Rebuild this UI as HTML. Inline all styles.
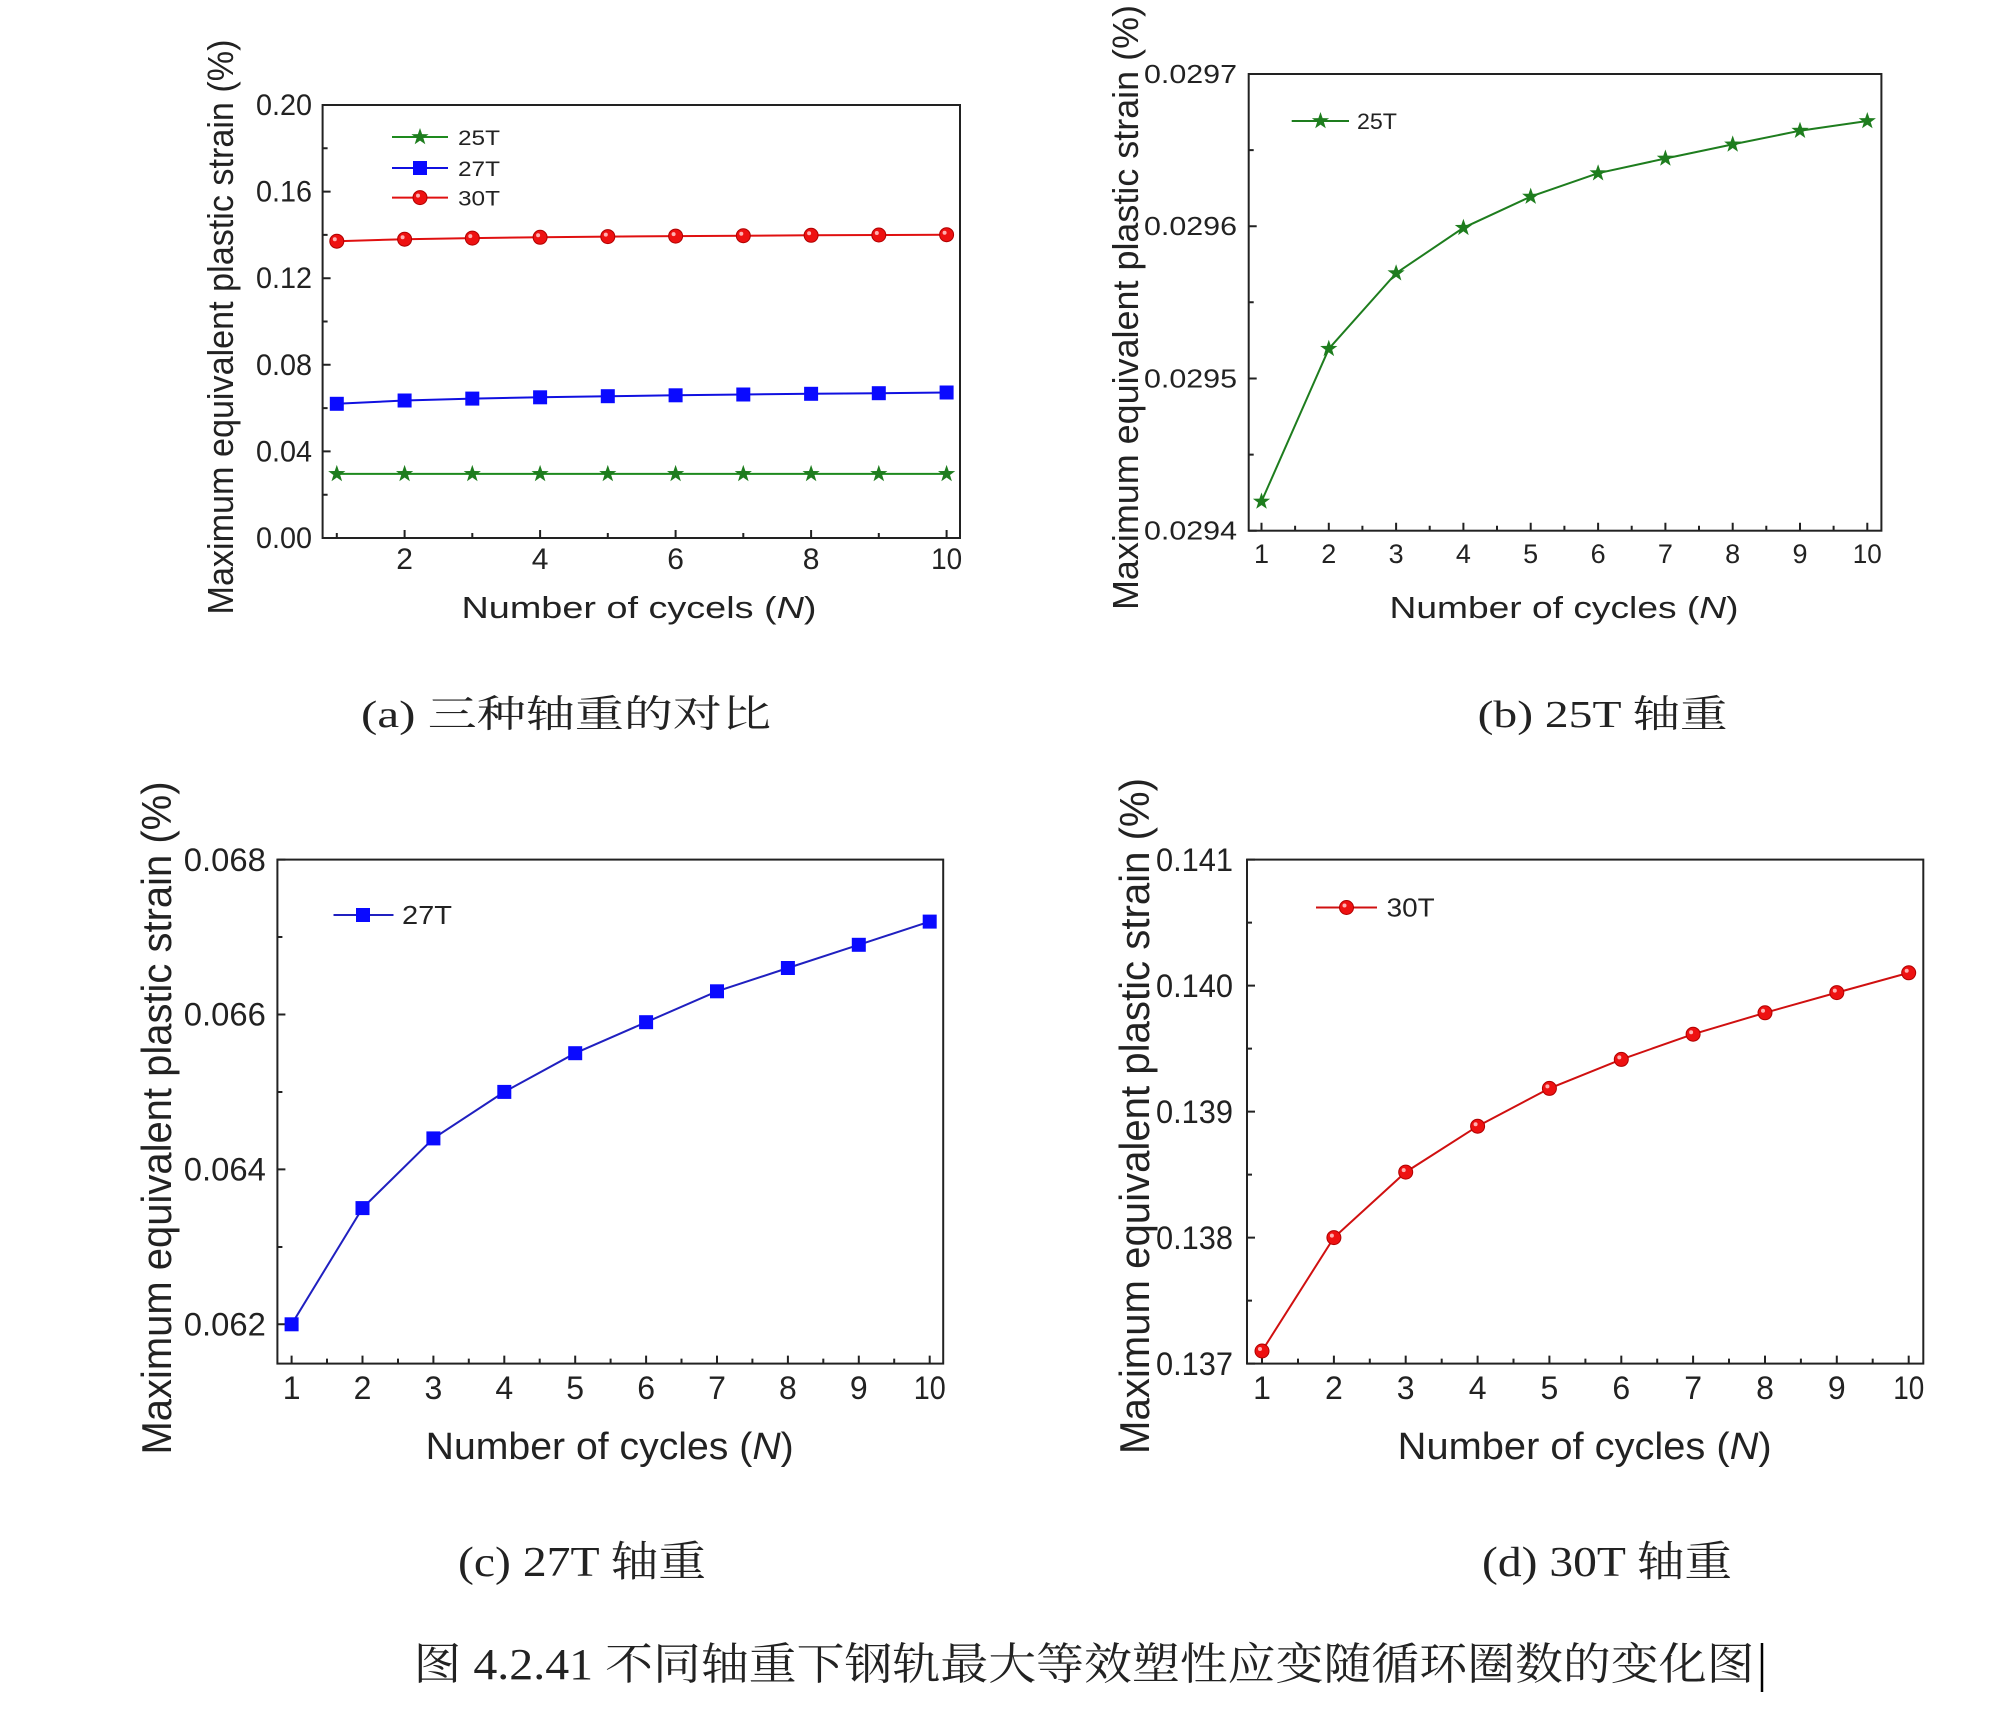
<!DOCTYPE html>
<html><head><meta charset="utf-8"><style>
html,body{margin:0;padding:0;background:#fff;}
svg{display:block;}
.s{font-family:"Liberation Sans",Arial,sans-serif;fill:#222;}
.c{font-family:"Liberation Serif","Noto Serif CJK SC",serif;fill:#222;}
</style></head><body>
<svg width="1994" height="1719" viewBox="0 0 1994 1719" xmlns="http://www.w3.org/2000/svg">
<defs>
<path id="star" d="M0,-9 L2.1,-2.9 L8.6,-2.8 L3.4,1.1 L5.3,7.3 L0,3.6 L-5.3,7.3 L-3.4,1.1 L-8.6,-2.8 L-2.1,-2.9 Z" fill="#1e7d1e"/>
<rect id="sq" x="-7" y="-7" width="14" height="14" fill="#0a0aff"/>
<g id="cir"><circle r="7" fill="#ee1111" stroke="#b00000" stroke-width="1"/><circle cx="-2" cy="-2" r="2" fill="#ffb0b0"/></g>
</defs>

<!-- ===== (a) ===== -->
<g>
<rect x="322.6" y="105" width="637.4" height="433" fill="none" stroke="#222" stroke-width="2"/>
<g stroke="#222" stroke-width="2">
<path d="M322.6 538h8M322.6 451.4h8M322.6 364.8h8M322.6 278.2h8M322.6 191.6h8M322.6 105h8"/>
<path d="M322.6 494.7h5M322.6 408.1h5M322.6 321.5h5M322.6 234.9h5M322.6 148.3h5"/>
<path d="M404.6 538v-8M540.1 538v-8M675.6 538v-8M811.1 538v-8M946.6 538v-8"/>
<path d="M336.8 538v-5M472.3 538v-5M607.8 538v-5M743.3 538v-5M878.8 538v-5"/>
</g>
<g class="s" font-size="30" text-anchor="end">
<text x="312" y="548" textLength="56" lengthAdjust="spacingAndGlyphs">0.00</text>
<text x="312" y="461.4" textLength="56" lengthAdjust="spacingAndGlyphs">0.04</text>
<text x="312" y="374.8" textLength="56" lengthAdjust="spacingAndGlyphs">0.08</text>
<text x="312" y="288.2" textLength="56" lengthAdjust="spacingAndGlyphs">0.12</text>
<text x="312" y="201.6" textLength="56" lengthAdjust="spacingAndGlyphs">0.16</text>
<text x="312" y="115" textLength="56" lengthAdjust="spacingAndGlyphs">0.20</text>
</g>
<g class="s" font-size="30" text-anchor="middle">
<text x="404.6" y="569">2</text><text x="540.1" y="569">4</text><text x="675.6" y="569">6</text><text x="811.1" y="569">8</text><text x="946.6" y="569" textLength="31" lengthAdjust="spacingAndGlyphs">10</text>
</g>
<text class="s" x="461.5" y="618" font-size="31" textLength="355" lengthAdjust="spacingAndGlyphs">Number of cycels (<tspan font-style="italic">N</tspan>)</text>
<text class="s" transform="translate(233,327) rotate(-90)" x="0" y="0" text-anchor="middle" font-size="36" textLength="575" lengthAdjust="spacingAndGlyphs">Maximum equivalent plastic strain (%)</text>
<polyline fill="none" stroke="#e01010" stroke-width="2" points="336.8,241.2 404.6,239.2 472.3,238.1 540.1,237.3 607.8,236.6 675.6,236.1 743.3,235.7 811.1,235.3 878.8,235 946.6,234.7"/>
<polyline fill="none" stroke="#1010e0" stroke-width="2" points="336.8,403.8 404.6,400.5 472.3,398.6 540.1,397.3 607.8,396.2 675.6,395.3 743.3,394.5 811.1,393.8 878.8,393.2 946.6,392.5"/>
<polyline fill="none" stroke="#1e8a1e" stroke-width="2" points="336.8,473.9 946.6,473.9"/>
<use href="#cir" x="336.8" y="241.2"/><use href="#cir" x="404.6" y="239.2"/><use href="#cir" x="472.3" y="238.1"/><use href="#cir" x="540.1" y="237.3"/><use href="#cir" x="607.8" y="236.6"/><use href="#cir" x="675.6" y="236.1"/><use href="#cir" x="743.3" y="235.7"/><use href="#cir" x="811.1" y="235.3"/><use href="#cir" x="878.8" y="235"/><use href="#cir" x="946.6" y="234.7"/>
<use href="#sq" x="336.8" y="403.8"/><use href="#sq" x="404.6" y="400.5"/><use href="#sq" x="472.3" y="398.6"/><use href="#sq" x="540.1" y="397.3"/><use href="#sq" x="607.8" y="396.2"/><use href="#sq" x="675.6" y="395.3"/><use href="#sq" x="743.3" y="394.5"/><use href="#sq" x="811.1" y="393.8"/><use href="#sq" x="878.8" y="393.2"/><use href="#sq" x="946.6" y="392.5"/>
<use href="#star" x="336.8" y="473.9"/><use href="#star" x="404.6" y="473.9"/><use href="#star" x="472.3" y="473.9"/><use href="#star" x="540.1" y="473.9"/><use href="#star" x="607.8" y="473.9"/><use href="#star" x="675.6" y="473.9"/><use href="#star" x="743.3" y="473.9"/><use href="#star" x="811.1" y="473.9"/><use href="#star" x="878.8" y="473.9"/><use href="#star" x="946.6" y="473.9"/>
<line x1="392" y1="137" x2="448" y2="137" stroke="#1e8a1e" stroke-width="2"/><use href="#star" x="420" y="137"/>
<line x1="392" y1="168" x2="448" y2="168" stroke="#1010e0" stroke-width="2"/><use href="#sq" x="420" y="168"/>
<line x1="392" y1="197.6" x2="448" y2="197.6" stroke="#e01010" stroke-width="2"/><use href="#cir" x="420" y="197.6"/>
<g class="s" font-size="21"><text x="458" y="145" textLength="42" lengthAdjust="spacingAndGlyphs">25T</text><text x="458" y="176" textLength="42" lengthAdjust="spacingAndGlyphs">27T</text><text x="458" y="205.6" textLength="42" lengthAdjust="spacingAndGlyphs">30T</text></g>
<text class="c" x="361" y="727" font-size="38" textLength="410" lengthAdjust="spacingAndGlyphs">(a)  三种轴重的对比</text>
</g>

<!-- ===== (b) ===== -->
<g>
<rect x="1248.7" y="74" width="632.7" height="456.7" fill="none" stroke="#222" stroke-width="2"/>
<g stroke="#222" stroke-width="2">
<path d="M1248.7 74h8M1248.7 226.2h8M1248.7 378.5h8M1248.7 530.7h8"/>
<path d="M1248.7 150.1h5M1248.7 302.3h5M1248.7 454.6h5"/>
<path d="M1261.5 530.7v-8M1328.8 530.7v-8M1396.1 530.7v-8M1463.4 530.7v-8M1530.7 530.7v-8M1598.1 530.7v-8M1665.4 530.7v-8M1732.7 530.7v-8M1800 530.7v-8M1867.3 530.7v-8"/>
<path d="M1295.1 530.7v-5M1362.4 530.7v-5M1429.7 530.7v-5M1497 530.7v-5M1564.4 530.7v-5M1631.7 530.7v-5M1699 530.7v-5M1766.3 530.7v-5M1833.6 530.7v-5"/>
</g>
<g class="s" font-size="26" text-anchor="end">
<text x="1237" y="83" textLength="93" lengthAdjust="spacingAndGlyphs">0.0297</text>
<text x="1237" y="235.2" textLength="93" lengthAdjust="spacingAndGlyphs">0.0296</text>
<text x="1237" y="387.5" textLength="93" lengthAdjust="spacingAndGlyphs">0.0295</text>
<text x="1237" y="539.7" textLength="93" lengthAdjust="spacingAndGlyphs">0.0294</text>
</g>
<g class="s" font-size="27" text-anchor="middle">
<text x="1261.5" y="563">1</text><text x="1328.8" y="563">2</text><text x="1396.1" y="563">3</text><text x="1463.4" y="563">4</text><text x="1530.7" y="563">5</text><text x="1598.1" y="563">6</text><text x="1665.4" y="563">7</text><text x="1732.7" y="563">8</text><text x="1800" y="563">9</text><text x="1867.3" y="563" textLength="29" lengthAdjust="spacingAndGlyphs">10</text>
</g>
<text class="s" x="1389.5" y="618" font-size="31" textLength="349" lengthAdjust="spacingAndGlyphs">Number of cycles (<tspan font-style="italic">N</tspan>)</text>
<text class="s" transform="translate(1138,307.5) rotate(-90)" text-anchor="middle" font-size="36" textLength="605" lengthAdjust="spacingAndGlyphs">Maximum equivalent plastic strain (%)</text>
<polyline fill="none" stroke="#1e7d1e" stroke-width="2" points="1261.5,501.5 1328.8,348.8 1396.1,273.2 1463.4,227.8 1530.7,196.6 1598.1,173.2 1665.4,158.5 1732.7,144.4 1800,130.7 1867.3,121"/>
<use href="#star" x="1261.5" y="501.5"/><use href="#star" x="1328.8" y="348.8"/><use href="#star" x="1396.1" y="273.2"/><use href="#star" x="1463.4" y="227.8"/><use href="#star" x="1530.7" y="196.6"/><use href="#star" x="1598.1" y="173.2"/><use href="#star" x="1665.4" y="158.5"/><use href="#star" x="1732.7" y="144.4"/><use href="#star" x="1800" y="130.7"/><use href="#star" x="1867.3" y="121"/>
<line x1="1291.7" y1="121" x2="1349" y2="121" stroke="#1e7d1e" stroke-width="2"/><use href="#star" x="1320.5" y="121"/>
<text class="s" x="1357" y="129" font-size="22" textLength="40" lengthAdjust="spacingAndGlyphs">25T</text>
<text class="c" x="1477.6" y="727" font-size="38" textLength="250" lengthAdjust="spacingAndGlyphs">(b) 25T 轴重</text>
</g>

<!-- ===== (c) ===== -->
<g>
<rect x="277.4" y="859.6" width="665.8" height="504" fill="none" stroke="#222" stroke-width="2"/>
<g stroke="#222" stroke-width="2">
<path d="M277.4 859.6h8M277.4 1014.5h8M277.4 1169.4h8M277.4 1324.3h8"/>
<path d="M277.4 937h5M277.4 1092h5M277.4 1247h5"/>
<path d="M291.6 1363.6v-8M362.5 1363.6v-8M433.4 1363.6v-8M504.3 1363.6v-8M575.2 1363.6v-8M646.1 1363.6v-8M717 1363.6v-8M787.9 1363.6v-8M858.8 1363.6v-8M929.7 1363.6v-8"/>
<path d="M327 1363.6v-5M398 1363.6v-5M468.8 1363.6v-5M539.7 1363.6v-5M610.6 1363.6v-5M681.5 1363.6v-5M752.4 1363.6v-5M823.3 1363.6v-5M894.2 1363.6v-5"/>
</g>
<g class="s" font-size="32" text-anchor="end">
<text x="265.8" y="871" textLength="82" lengthAdjust="spacingAndGlyphs">0.068</text>
<text x="265.8" y="1025.5" textLength="82" lengthAdjust="spacingAndGlyphs">0.066</text>
<text x="265.8" y="1180.4" textLength="82" lengthAdjust="spacingAndGlyphs">0.064</text>
<text x="265.8" y="1335.3" textLength="82" lengthAdjust="spacingAndGlyphs">0.062</text>
</g>
<g class="s" font-size="32" text-anchor="middle">
<text x="291.6" y="1399">1</text><text x="362.5" y="1399">2</text><text x="433.4" y="1399">3</text><text x="504.3" y="1399">4</text><text x="575.2" y="1399">5</text><text x="646.1" y="1399">6</text><text x="717" y="1399">7</text><text x="787.9" y="1399">8</text><text x="858.8" y="1399">9</text><text x="929.7" y="1399" textLength="32" lengthAdjust="spacingAndGlyphs">10</text>
</g>
<text class="s" x="425.7" y="1459" font-size="38" textLength="368" lengthAdjust="spacingAndGlyphs">Number of cycles (<tspan font-style="italic">N</tspan>)</text>
<text class="s" transform="translate(171,1118) rotate(-90)" text-anchor="middle" font-size="42" textLength="673" lengthAdjust="spacingAndGlyphs">Maximum equivalent plastic strain (%)</text>
<polyline fill="none" stroke="#2020c0" stroke-width="2" points="291.6,1324.3 362.5,1208.1 433.4,1138.4 504.3,1091.9 575.2,1053.2 646.1,1022.2 717,991.3 787.9,968 858.8,944.8 929.7,921.6"/>
<use href="#sq" x="291.6" y="1324.3"/><use href="#sq" x="362.5" y="1208.1"/><use href="#sq" x="433.4" y="1138.4"/><use href="#sq" x="504.3" y="1091.9"/><use href="#sq" x="575.2" y="1053.2"/><use href="#sq" x="646.1" y="1022.2"/><use href="#sq" x="717" y="991.3"/><use href="#sq" x="787.9" y="968"/><use href="#sq" x="858.8" y="944.8"/><use href="#sq" x="929.7" y="921.6"/>
<line x1="333.5" y1="915" x2="393.5" y2="915" stroke="#2020c0" stroke-width="2"/><use href="#sq" x="363" y="915"/>
<text class="s" x="402" y="924" font-size="26" textLength="50" lengthAdjust="spacingAndGlyphs">27T</text>
<text class="c" x="458" y="1576" font-size="42" textLength="248" lengthAdjust="spacingAndGlyphs">(c) 27T 轴重</text>
</g>

<!-- ===== (d) ===== -->
<g>
<rect x="1247" y="859.6" width="676.3" height="504" fill="none" stroke="#222" stroke-width="2"/>
<g stroke="#222" stroke-width="2">
<path d="M1247 859.6h8M1247 985.6h8M1247 1111.6h8M1247 1237.6h8M1247 1363.6h8"/>
<path d="M1247 922.6h5M1247 1048.6h5M1247 1174.6h5M1247 1300.6h5"/>
<path d="M1262 1363.6v-8M1333.9 1363.6v-8M1405.7 1363.6v-8M1477.6 1363.6v-8M1549.4 1363.6v-8M1621.3 1363.6v-8M1693.1 1363.6v-8M1765 1363.6v-8M1836.8 1363.6v-8M1908.7 1363.6v-8"/>
<path d="M1298 1363.6v-5M1369.8 1363.6v-5M1441.7 1363.6v-5M1513.5 1363.6v-5M1585.4 1363.6v-5M1657.2 1363.6v-5M1729 1363.6v-5M1800.9 1363.6v-5M1872.7 1363.6v-5"/>
</g>
<g class="s" font-size="32" text-anchor="end">
<text x="1233" y="871" textLength="77" lengthAdjust="spacingAndGlyphs">0.141</text>
<text x="1233" y="997" textLength="77" lengthAdjust="spacingAndGlyphs">0.140</text>
<text x="1233" y="1123" textLength="77" lengthAdjust="spacingAndGlyphs">0.139</text>
<text x="1233" y="1249" textLength="77" lengthAdjust="spacingAndGlyphs">0.138</text>
<text x="1233" y="1375" textLength="77" lengthAdjust="spacingAndGlyphs">0.137</text>
</g>
<g class="s" font-size="32" text-anchor="middle">
<text x="1262" y="1399">1</text><text x="1333.9" y="1399">2</text><text x="1405.7" y="1399">3</text><text x="1477.6" y="1399">4</text><text x="1549.4" y="1399">5</text><text x="1621.3" y="1399">6</text><text x="1693.1" y="1399">7</text><text x="1765" y="1399">8</text><text x="1836.8" y="1399">9</text><text x="1908.7" y="1399" textLength="31" lengthAdjust="spacingAndGlyphs">10</text>
</g>
<text class="s" x="1397.7" y="1459" font-size="38" textLength="374" lengthAdjust="spacingAndGlyphs">Number of cycles (<tspan font-style="italic">N</tspan>)</text>
<text class="s" transform="translate(1149,1116) rotate(-90)" text-anchor="middle" font-size="42" textLength="676" lengthAdjust="spacingAndGlyphs">Maximum equivalent plastic strain (%)</text>
<polyline fill="none" stroke="#d01010" stroke-width="2" points="1262,1351 1333.9,1237.6 1405.7,1172.1 1477.6,1126.2 1549.4,1088.4 1621.3,1059.4 1693.1,1034.2 1765,1012.8 1836.8,992.6 1908.7,972.8"/>
<use href="#cir" x="1262" y="1351"/><use href="#cir" x="1333.9" y="1237.6"/><use href="#cir" x="1405.7" y="1172.1"/><use href="#cir" x="1477.6" y="1126.2"/><use href="#cir" x="1549.4" y="1088.4"/><use href="#cir" x="1621.3" y="1059.4"/><use href="#cir" x="1693.1" y="1034.2"/><use href="#cir" x="1765" y="1012.8"/><use href="#cir" x="1836.8" y="992.6"/><use href="#cir" x="1908.7" y="972.8"/>
<line x1="1316" y1="907.5" x2="1377" y2="907.5" stroke="#d01010" stroke-width="2"/><use href="#cir" x="1346.5" y="907.5"/>
<text class="s" x="1386.6" y="916.5" font-size="26" textLength="48" lengthAdjust="spacingAndGlyphs">30T</text>
<text class="c" x="1482" y="1576" font-size="42" textLength="250" lengthAdjust="spacingAndGlyphs">(d) 30T 轴重</text>
</g>

<text class="c" x="413.5" y="1679" font-size="44" textLength="1341" lengthAdjust="spacingAndGlyphs">图 4.2.41  不同轴重下钢轨最大等效塑性应变随循环圈数的变化图</text>
<line x1="1762" y1="1643" x2="1762" y2="1692" stroke="#000" stroke-width="2.5"/>
</svg>
</body></html>
